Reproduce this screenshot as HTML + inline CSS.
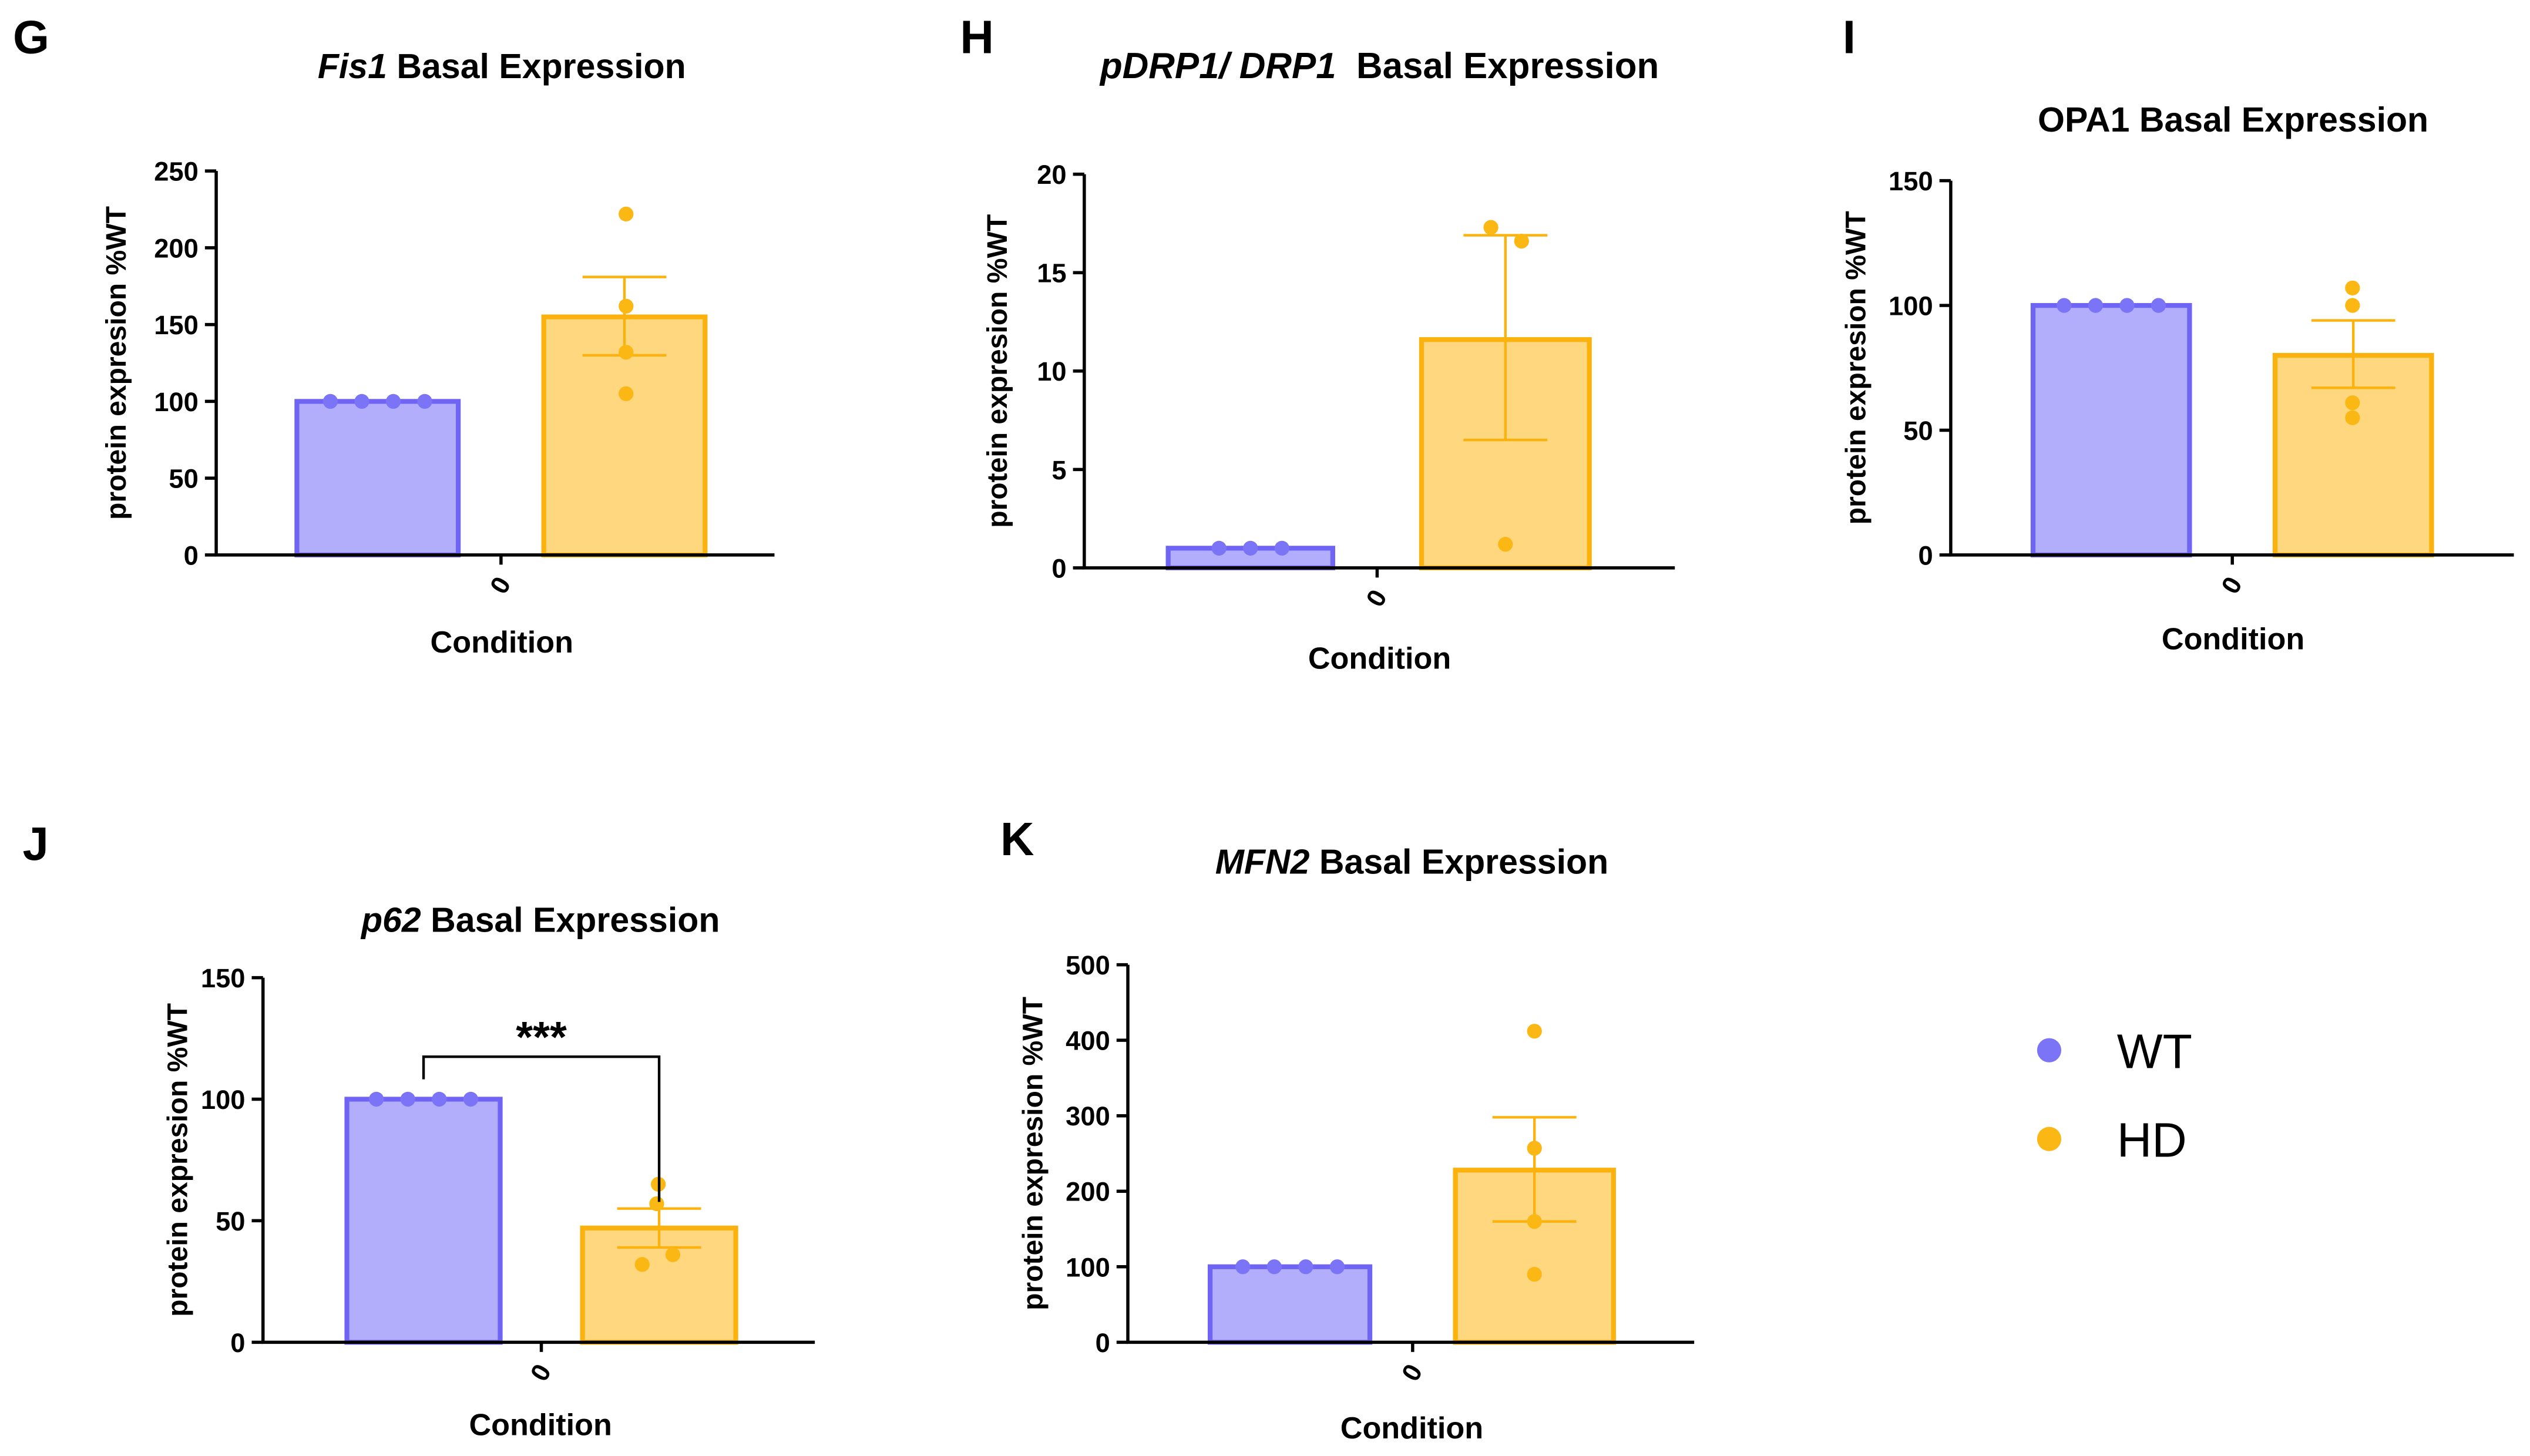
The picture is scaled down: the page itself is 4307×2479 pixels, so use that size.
<!DOCTYPE html>
<html><head><meta charset="utf-8"><style>
html,body{margin:0;padding:0;background:#fff}
svg{display:block}
text{font-family:"Liberation Sans",Arial,sans-serif;font-weight:bold;fill:#000}
</style></head><body>
<svg id="fig" width="4307" height="2479" viewBox="0 0 1568 902.5" preserveAspectRatio="none" xmlns="http://www.w3.org/2000/svg">
<rect width="1568" height="902.5" fill="#fff"/>
<g>
<circle cx="1270" cy="651" r="7.5" fill="#7b74f7"/><text x="1312" y="662" font-size="30" style="font-weight:normal">WT</text>
<circle cx="1270" cy="706" r="7.5" fill="#fbb714"/><text x="1312" y="717" font-size="30" style="font-weight:normal">HD</text>
</g>
</svg>
<script>
const panelIds=['G','H','I','J','K'];
const titlesItalic=['Fis1','pDRP1/ DRP1 ','','p62','MFN2'];
const titlesRest=[' Basal Expression','\u00a0Basal Expression','OPA1 Basal Expression',' Basal Expression',' Basal Expression'];
const yMaxes=[250,20,150,150,500];
const yStepsArr=[50,5,50,50,100];
const wtMeans=[100,1,100,100,100];
const hdMeans=[155,11.6,80,47,228];
const hdErrLo=[130,6.5,67,39,160];
const hdErrHi=[181,16.9,94,55,298];
const wtPoints=[[100,100,100,100],[1,1,1],[100,100,100,100],[100,100,100,100],[100,100,100,100]];
const hdPoints=[[222,162,132,105],[17.3,16.6,1.2],[107,100,61,55],[65,57,36,32],[412,257,160,90]];
// layout (not data)
const L=[
 {ax:134,top:106,bot:344,right:480,wt:[184,284],hd:[337,437],tx:311,ty:41,letter:[8,33],cond:398,yl:72,hdx:[388,388,388,388]},
 {ax:672,top:108,bot:352,right:1038,wt:[724,826],hd:[881,985],tx:855,ty:41,letter:[595,33],cond:408,yl:618,hdx:[924,943,933]},
 {ax:1209,top:112,bot:344,right:1558,wt:[1260,1357],hd:[1410,1507],tx:1384,ty:74,letter:[1142,33],cond:396,yl:1150,hdx:[1458,1458,1458,1458]},
 {ax:163,top:606,bot:832,right:505,wt:[215,310],hd:[361,456],tx:335,ty:570,letter:[14,533],cond:883,yl:110,hdx:[408,407,417,398]},
 {ax:699,top:598,bot:832,right:1050,wt:[750,849],hd:[902,1000],tx:875,ty:534,letter:[620,530],cond:885,yl:640,hdx:[951,951,951,951]}
];
const NS='http://www.w3.org/2000/svg';
const svg=document.getElementById('fig');
function mk(tag,attrs,parent,txt){const e=document.createElementNS(NS,tag);for(const k in attrs)e.setAttribute(k,attrs[k]);if(txt!==undefined)e.textContent=txt;parent.appendChild(e);return e;}
panelIds.forEach((id,i)=>{
 const l=L[i];
 const g=mk('g',{},svg);
 
 
 const y=v=>l.bot-(v/yMaxes[i])*(l.bot-l.top);
 const lt=mk('text',{x:l.letter[0],y:l.letter[1],'font-size':29},g,id);
 
 
 const t=mk('text',{x:l.tx,y:l.ty+7.5,'font-size':i===1?22.5:21.5,'text-anchor':'middle','xml:space':'preserve'},g);
 
 
 if(titlesItalic[i]) mk('tspan',{'font-style':'italic'},t,titlesItalic[i]);
 mk('tspan',{},t,titlesRest[i]);
 const bw=mk('rect',{x:l.wt[0],y:y(wtMeans[i]),width:l.wt[1]-l.wt[0],height:l.bot-y(wtMeans[i]),fill:'#b3aefc',stroke:'#7064f5','stroke-width':3},g);
 
 
 const bh=mk('rect',{x:l.hd[0],y:y(hdMeans[i]),width:l.hd[1]-l.hd[0],height:l.bot-y(hdMeans[i]),fill:'#fed77f',stroke:'#fbb20e','stroke-width':3},g);
 
 
 const cx=(l.hd[0]+l.hd[1])/2;
 const eb=mk('path',{d:`M${cx},${y(hdErrLo[i])}V${y(hdErrHi[i])}M${cx-26},${y(hdErrHi[i])}H${cx+26}M${cx-26},${y(hdErrLo[i])}H${cx+26}`,stroke:'#fbb20e','stroke-width':1.6,fill:'none'},g);
 
 
 const n=wtPoints[i].length,wcx=(l.wt[0]+l.wt[1])/2;
 wtPoints[i].forEach((v,k)=>{
  const px=wcx+(k-(n-1)/2)*19.5;
  const c=mk('circle',{cx:px,cy:y(v),r:4.6,fill:'#7b74f7'},g);
  
  
 });
 hdPoints[i].forEach((v,k)=>{
  const c=mk('circle',{cx:l.hdx[k],cy:y(v),r:4.6,fill:'#fbb714'},g);
  
  
 });
 const ax=mk('path',{d:`M${l.ax},${l.top}V${l.bot}H${l.right}`,stroke:'#000','stroke-width':2,fill:'none'},g);
 
 
 for(let v=0;v<=yMaxes[i]+1e-9;v+=yStepsArr[i]){
  mk('line',{x1:l.ax-7,x2:l.ax,y1:y(v),y2:y(v),stroke:'#000','stroke-width':2},g);
  const tl=mk('text',{x:l.ax-11,y:y(v)+6,'font-size':16.5,'text-anchor':'end'},g,String(v));
  
  
 }
 const mx=(l.wt[1]+l.hd[0])/2;
 mk('line',{x1:mx,x2:mx,y1:l.bot,y2:l.bot+6,stroke:'#000','stroke-width':2},g);
 const xt=mk('text',{x:mx,y:l.bot+24,'font-size':16,'text-anchor':'middle',transform:`rotate(-60 ${mx} ${l.bot+19})`},g,'0');
 
 
 const ct=mk('text',{x:l.tx,y:l.cond+6.5,'font-size':19,'text-anchor':'middle'},g,'Condition');
 
 
 const ym=(l.top+l.bot)/2;
 const yt=mk('text',{x:l.yl,y:ym+6,'font-size':17.5,'text-anchor':'middle',transform:`rotate(-90 ${l.yl} ${ym})`},g,'protein expresion %WT');
 
 
 if(id==='J'){
  const b=mk('path',{d:`M${wcx},669V655H${cx}V745`,stroke:'#000','stroke-width':1.6,fill:'none'},g);
  
  
  const s=mk('text',{x:(wcx+cx)/2,y:652,'font-size':27,'text-anchor':'middle'},g,'***');
  
  
 }
});
</script>
</body></html>
